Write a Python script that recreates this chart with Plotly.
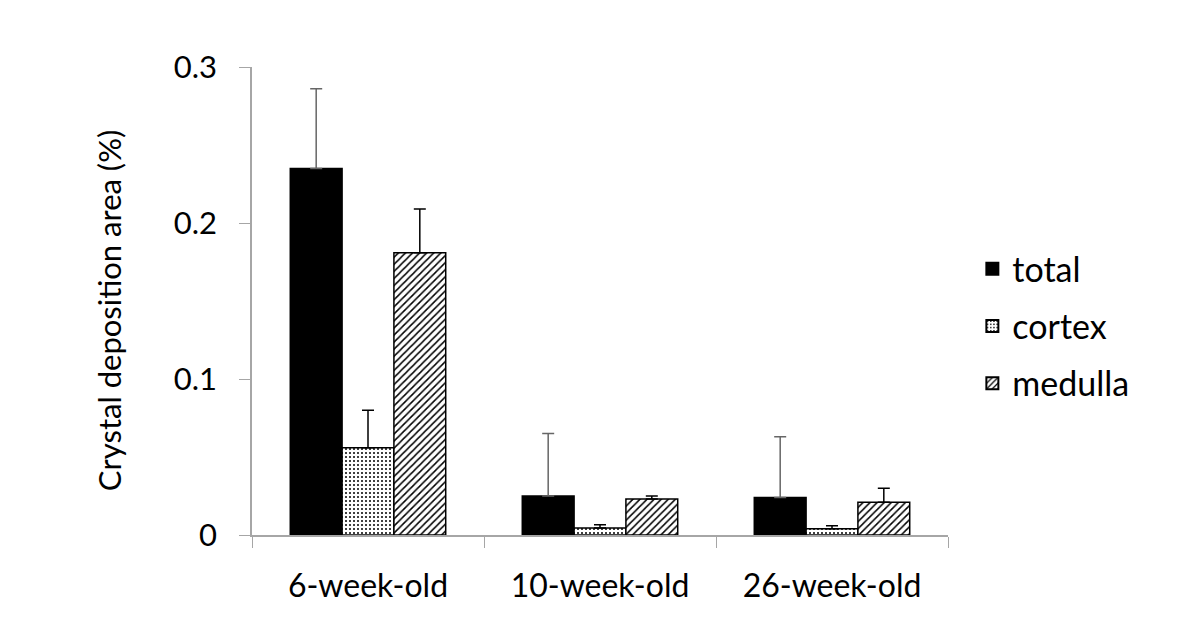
import plotly.graph_objects as go

# data
ages = ["6-week-old", "10-week-old", "26-week-old"]
total = [0.235, 0.025, 0.024]
total_err = [0.051, 0.040, 0.039]
cortex = [0.056, 0.0045, 0.004]
cortex_err = [0.024, 0.002, 0.002]
medulla = [0.181, 0.023, 0.021]
medulla_err = [0.028, 0.002, 0.009]

FONT = "Lato, Open Sans, sans-serif"


def bar(name, values, errors, pattern, err_color, size, solidity):
    return go.Bar(
        name=name,
        legendgroup=name,
        x=ages,
        y=values,
        error_y=dict(type="data", array=errors, arrayminus=[0] * len(errors),
                     symmetric=False, color=err_color, thickness=1.5, width=6),
        marker=dict(
            color="black" if pattern is None else "white",
            line=dict(color="black", width=1.5),
            pattern=None if pattern is None else dict(
                shape=pattern, fgcolor="black", bgcolor="white",
                fillmode="replace", size=size, solidity=solidity),
        ),
    )


fig = go.Figure()
fig.add_trace(bar("total", total, total_err, None, "#666666", 0, 0))
fig.add_trace(bar("cortex", cortex, cortex_err, ".", "black", 4, 0.2))
fig.add_trace(bar("medulla", medulla, medulla_err, "/", "black", 5, 0.3))

# the page body adds 8 px around the figure
fig.update_layout(
    width=1200, height=641,
    barmode="group", bargap=0.33, bargroupgap=0,
    plot_bgcolor="white", paper_bgcolor="white",
    margin=dict(l=244, r=260, t=59, b=114),
    font=dict(family=FONT, size=30, color="black"),
    legend=dict(x=1.035, y=0.63, xanchor="left", yanchor="top",
                font=dict(size=34), tracegroupgap=10, itemsizing="constant"),
)
# y title placed like the original
fig.add_annotation(
    text="Crystal deposition area (%)", textangle=-90,
    xref="paper", yref="paper", x=-0.205, y=0.479,
    xanchor="center", yanchor="middle", showarrow=False,
    font=dict(size=31),
)
fig.update_yaxes(
    range=[0, 0.3], dtick=0.1, showgrid=False, zeroline=False,
    showline=True, linecolor="#a6a6a6", linewidth=1.5,
    ticks="outside", ticklen=11, tickcolor="#a6a6a6",
    ticklabelstandoff=16, tickfont=dict(size=31),
)
fig.update_xaxes(
    showgrid=False, showline=True, linecolor="#a6a6a6", linewidth=1.5,
    ticks="outside", tickson="boundaries", ticklen=11, tickcolor="#a6a6a6",
    ticklabelstandoff=22, tickfont=dict(size=32),
)

fig.write_html("out.html")
